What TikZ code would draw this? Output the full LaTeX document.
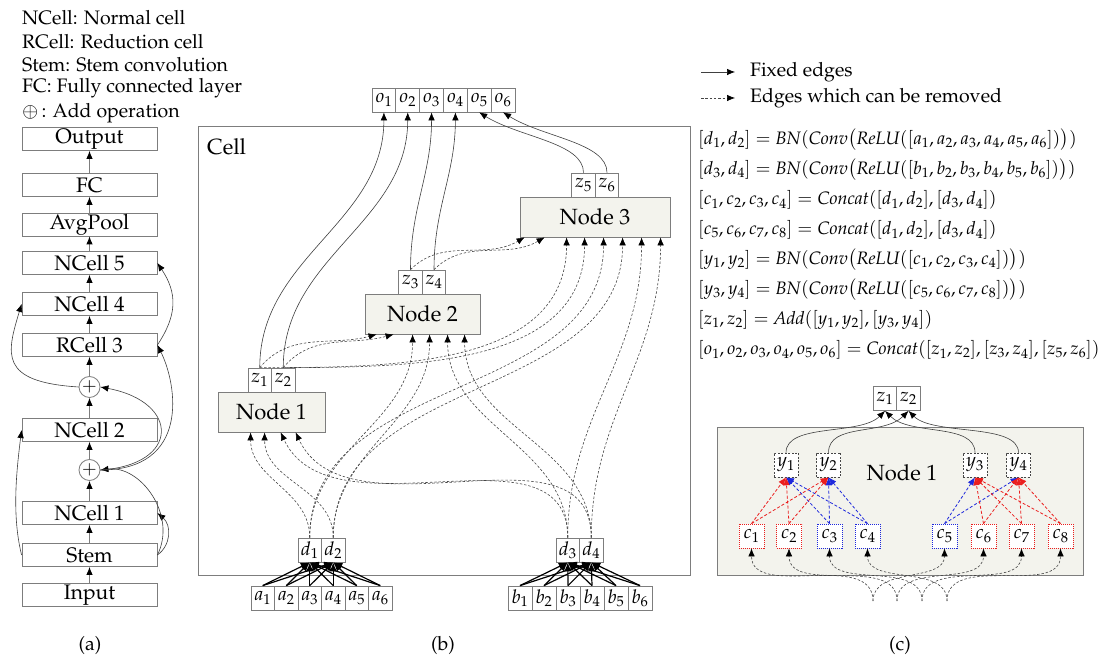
\documentclass[tikz,border=0pt]{standalone}
\usepackage[T1]{fontenc}
\usepackage{mathpazo}
\usetikzlibrary{arrows.meta,calc}
\definecolor{bordergray}{RGB}{125,125,125}
\definecolor{nodefill}{RGB}{243,243,237}
\definecolor{dashcol}{RGB}{70,70,70}
\definecolor{myred}{RGB}{235,30,30}
\definecolor{myblue}{RGB}{30,40,220}
\tikzset{
  txt/.style={inner sep=0pt, font=\fontsize{19.5}{23}\selectfont},
  blk/.style={draw=bordergray, line width=0.8pt, fill=white, minimum width=135pt, minimum height=23pt, inner sep=0pt, font=\fontsize{21}{24}\selectfont},
  cellbox/.style={draw=bordergray, line width=0.8pt, fill=white, minimum width=23.5pt, minimum height=24pt, inner sep=0pt, font=\fontsize{19}{22}\selectfont},
  opnode/.style={draw=bordergray, line width=0.8pt, fill=nodefill, minimum height=40pt, inner sep=0pt, font=\fontsize{22}{26}\selectfont},
  addop/.style={circle, draw=bordergray, line width=0.8pt, fill=white, minimum size=21pt, inner sep=0pt, font=\fontsize{18}{20}\selectfont},
  arr/.style={-{Latex[length=8pt,width=6.5pt,color=black]}},
  chainedge/.style={draw=bordergray, line width=0.9pt, arr},
  fixededge/.style={draw=black!75, line width=0.6pt, arr},
  remedge/.style={draw=dashcol, line width=0.6pt, dash pattern=on 2.5pt off 1.8pt, arr},
  convin/.style={draw=black, line width=1.2pt, -{Latex[length=9pt,width=7.5pt]}},
  ybox/.style={draw=dashcol, line width=0.6pt, dash pattern=on 2pt off 1.5pt, fill=white, minimum width=24pt, minimum height=24pt, inner sep=0pt, font=\fontsize{19}{22}\selectfont},
  cbox/.style={draw=#1, line width=0.8pt, dash pattern=on 1pt off 1pt, fill=white, minimum width=25pt, minimum height=24pt, inner sep=0pt, font=\fontsize{19}{22}\selectfont},
  coledge/.style={draw=#1, line width=0.8pt, dash pattern=on 3pt off 2pt, -{Latex[length=8pt,width=6.5pt]}},
  eqn/.style={anchor=west, inner sep=0pt, font=\fontsize{18}{22}\selectfont},
}
\begin{document}
\begin{tikzpicture}[x=1pt,y=1pt]
\useasboundingbox (0,0) rectangle (1107,663);
\fill[white] (0,0) rectangle (1107,663);

% ---------------- panel (a) ----------------
\node[txt, anchor=west] (lg1) at (22,645) {NCell: Normal cell};
\node[txt, anchor=west] (lg2) at (22,621.5) {RCell: Reduction cell};
\node[txt, anchor=west] (lg3) at (22,598) {Stem: Stem convolution};
\node[txt, anchor=west] (lg4) at (22,575) {FC: Fully connected layer};
\node[txt, anchor=west] (lg5) at (22,550) {$\oplus$\,: Add operation};

\node[blk] (out) at (89.5,524) {Output};
\node[blk] (fc) at (89.5,478) {FC};
\node[blk] (avg) at (89.5,438.5) {AvgPool};
\node[blk] (n5) at (89.5,400) {NCell 5};
\node[blk] (n4) at (89.5,359) {NCell 4};
\node[blk] (r3) at (89.5,318) {RCell 3};
\node[addop] (p1) at (89.5,276) {$+$};
\node[blk] (n2) at (89.5,233) {NCell 2};
\node[addop] (p2) at (89.5,193) {$+$};
\node[blk] (n1) at (89.5,150) {NCell 1};
\node[blk] (stem) at (89.5,108) {Stem};
\node[blk] (inp) at (89.5,68) {Input};

\foreach \a/\b in {inp/stem, stem/n1, n1/p2, p2/n2, n2/p1, p1/r3, r3/n4, n4/n5, n5/avg, avg/fc, fc/out}
  \draw[chainedge] (\a.north) -- (\b.south);

\draw[fixededge] (stem.east) .. controls +(14,10) and +(14,-12) .. (n1.east);
\draw[fixededge] (stem.east) .. controls +(20,40) and +(40,5) .. (p2.east);
\draw[fixededge] (p2.east) .. controls +(80,5) and +(80,-15) .. (p1.east);
\draw[fixededge] (p2.east) .. controls +(90,0) and +(20,-40) .. (r3.east);
\draw[fixededge] (r3.east) .. controls +(20,30) and +(20,-30) .. (n5.east);
\draw[fixededge] (p1.west) .. controls +(-80,5) and +(-15,-50) .. (n4.west);
\draw[fixededge] (stem.west) .. controls +(-10,40) and +(-5,-40) .. (n2.west);

\node[txt] (la) at (90,18) {(a)};

% ---------------- panel (b) ----------------
\node[draw=bordergray, line width=0.8pt, minimum width=492pt, minimum height=449pt, inner sep=0pt, anchor=south west] (cell) at (198,87) {};
\node[inner sep=0pt, anchor=west, font=\fontsize{22}{26}\selectfont] (celllab) at (207,516) {Cell};

\foreach \i in {1,...,6}
  \node[cellbox, minimum width=23.83pt] (o\i) at ({383.9+23.83*(\i-1)},563) {$o_{\i}$};

\node[opnode, minimum width=150pt] (N3) at (595,446) {Node 3};
\node[cellbox] (z5) at (583.5,478) {$z_5$};
\node[cellbox] (z6) at (607,478) {$z_6$};
\node[opnode, minimum width=115pt] (N2) at (422.5,349) {Node 2};
\node[cellbox] (z3) at (410.5,381) {$z_3$};
\node[cellbox] (z4) at (434,381) {$z_4$};
\node[opnode, minimum width=107pt] (N1) at (271.5,251) {Node 1};
\node[cellbox] (z1) at (259.75,283) {$z_1$};
\node[cellbox] (z2) at (283.25,283) {$z_2$};

\node[cellbox] (d1) at (309.75,113) {$d_1$};
\node[cellbox] (d2) at (333.25,113) {$d_2$};
\node[cellbox] (d3) at (567.75,113) {$d_3$};
\node[cellbox] (d4) at (591.25,113) {$d_4$};

\foreach \i in {1,...,6} {
  \node[cellbox] (a\i) at ({262.75+23.5*(\i-1)},65) {$a_{\i}$};
  \node[cellbox, minimum width=24pt] (b\i) at ({520+24*(\i-1)},65) {$b_{\i}$};
}
\foreach \i in {1,...,6} {
  \draw[convin] (a\i.north) -- (d1.south);
  \draw[convin] (a\i.north) -- (d2.south);
  \draw[convin] (b\i.north) -- (d3.south);
  \draw[convin] (b\i.north) -- (d4.south);
}

% input ports
\foreach \k/\off in {1/33,2/47,3/63,4/78}
  \coordinate (P1\k) at ($(N1.south west)+(\off,0)$);
\foreach \k/\off in {1/12,2/29,3/48,4/65,5/83,6/100}
  \coordinate (P2\k) at ($(N2.south west)+(\off,0)$);
\foreach \k/\off in {1/5,2/25,3/47,4/65,5/84,6/103,7/122,8/141}
  \coordinate (P3\k) at ($(N3.south west)+(\off,0)$);

% fixed edges to outputs
\draw[fixededge] (z1.north) to[out=90,in=-90] (o1.south);
\draw[fixededge] (z2.north) to[out=90,in=-90] (o2.south);
\draw[fixededge] (z3.north) to[out=90,in=-90] (o3.south);
\draw[fixededge] (z4.north) to[out=90,in=-90] (o4.south);
\draw[fixededge] (z5.north) .. controls +(0,30) and +(40,-25) .. (o5.south);
\draw[fixededge] (z6.north) .. controls +(0,30) and +(40,-25) .. (o6.south);

% removable edges
\draw[remedge] (d1.north) to[out=90,in=-90] (P11);
\draw[remedge] (d2.north) to[out=90,in=-90] (P12);
\draw[remedge] (d3.north) to[out=90,in=-65] (P13);
\draw[remedge] (d4.north) to[out=90,in=-65] (P14);
\draw[remedge] (z1.north) to[out=50,in=-165] (P21);
\draw[remedge] (z2.north) to[out=50,in=-165] (P22);
\draw[remedge] (d1.north) to[out=90,in=-90] (P23);
\draw[remedge] (d2.north) to[out=90,in=-90] (P24);
\draw[remedge] (d3.north) to[out=90,in=-90] (P25);
\draw[remedge] (d4.north) to[out=90,in=-90] (P26);
\draw[remedge] (z3.north) to[out=45,in=-150] (P31);
\draw[remedge] (z4.north) to[out=45,in=-150] (P32);
\draw[remedge] (z1.north) to[out=0,in=-90] (P33);
\draw[remedge] (z2.north) to[out=0,in=-90] (P34);
\draw[remedge] (d1.north) to[out=90,in=-90] (P35);
\draw[remedge] (d2.north) to[out=90,in=-90] (P36);
\draw[remedge] (d3.north) to[out=90,in=-90] (P37);
\draw[remedge] (d4.north) to[out=90,in=-90] (P38);

\node[txt] (lb) at (443,18) {(b)};

% ---------------- legend and equations ----------------
\coordinate (lgs1) at (701,591); \coordinate (lge1) at (735,591);
\coordinate (lgs2) at (701,565); \coordinate (lge2) at (735,565);
\draw[fixededge, line width=0.7pt] (lgs1) -- (lge1);
\draw[remedge, line width=0.7pt] (lgs2) -- (lge2);
\node[txt, anchor=west] (lgt1) at (750,591) {Fixed edges};
\node[txt, anchor=west] (lgt2) at (750,565) {Edges which can be removed};

\node[eqn] (eq1) at (698,523) {$[d_1,d_2]=\mathit{BN}(\mathit{Conv}\bigl(\mathit{ReLU}([a_1,a_2,a_3,a_4,a_5,a_6])\bigr))$};
\node[eqn] (eq2) at (698,493) {$[d_3,d_4]=\mathit{BN}(\mathit{Conv}\bigl(\mathit{ReLU}([b_1,b_2,b_3,b_4,b_5,b_6])\bigr))$};
\node[eqn] (eq3) at (698,463) {$[c_1,c_2,c_3,c_4]=\mathit{Concat}([d_1,d_2],[d_3,d_4])$};
\node[eqn] (eq4) at (698,433) {$[c_5,c_6,c_7,c_8]=\mathit{Concat}([d_1,d_2],[d_3,d_4])$};
\node[eqn] (eq5) at (698,403) {$[y_1,y_2]=\mathit{BN}(\mathit{Conv}\bigl(\mathit{ReLU}([c_1,c_2,c_3,c_4])\bigr))$};
\node[eqn] (eq6) at (698,373) {$[y_3,y_4]=\mathit{BN}(\mathit{Conv}\bigl(\mathit{ReLU}([c_5,c_6,c_7,c_8])\bigr))$};
\node[eqn] (eq7) at (698,343) {$[z_1,z_2]=\mathit{Add}([y_1,y_2],[y_3,y_4])$};
\node[eqn] (eq8) at (698,313) {$[o_1,o_2,o_3,o_4,o_5,o_6]=\mathit{Concat}([z_1,z_2],[z_3,z_4],[z_5,z_6])$};

% ---------------- panel (c) ----------------
\node[draw=bordergray, fill=nodefill, line width=0.8pt, minimum width=366pt, minimum height=148pt, inner sep=0pt] (cN1) at (900,162) {};
\node[inner sep=0pt, font=\fontsize{22}{26}\selectfont] (cN1lab) at (902,190) {Node 1};
\node[cellbox] (cz1) at (885,264.5) {$z_1$};
\node[cellbox] (cz2) at (908.5,264.5) {$z_2$};

\node[ybox] (y1) at (786,198) {$y_1$};
\node[ybox] (y2) at (828.5,198) {$y_2$};
\node[ybox] (y3) at (975,198) {$y_3$};
\node[ybox] (y4) at (1018.5,198) {$y_4$};

\node[cbox=myred] (c1) at (751.5,127) {$c_1$};
\node[cbox=myred] (c2) at (789,127) {$c_2$};
\node[cbox=myblue] (c3) at (829.5,127) {$c_3$};
\node[cbox=myblue] (c4) at (867.5,127) {$c_4$};
\node[cbox=myblue] (c5) at (944.5,127) {$c_5$};
\node[cbox=myred] (c6) at (983.5,127) {$c_6$};
\node[cbox=myred] (c7) at (1021.5,127) {$c_7$};
\node[cbox=myred] (c8) at (1060.5,127) {$c_8$};

\foreach \c/\col in {c3/myblue,c4/myblue,c1/myred,c2/myred}
  \foreach \y in {y1,y2}
    \draw[coledge=\col] (\c.north) -- (\y.south);
\foreach \c/\col in {c5/myblue,c6/myred,c7/myred,c8/myred}
  \foreach \y in {y3,y4}
    \draw[coledge=\col] (\c.north) -- (\y.south);

\draw[fixededge] (y1.north) .. controls +(0,30) and +(-25,-25) .. (cz1.south);
\draw[fixededge] (y3.north) .. controls +(0,30) and +(25,-25) .. (cz1.south);
\draw[fixededge] (y2.north) .. controls +(0,30) and +(-25,-25) .. (cz2.south);
\draw[fixededge] (y4.north) .. controls +(0,30) and +(25,-25) .. (cz2.south);

\coordinate (e1) at (873,62);
\coordinate (e2) at (897,62);
\coordinate (e3) at (922,62);
\coordinate (e4) at (947,62);
\foreach \e/\c in {e1/c1,e2/c2,e3/c3,e4/c4,e1/c5,e2/c6,e3/c7,e4/c8}
  \draw[remedge] (\e) to[out=90,in=-90] (\c.south);

\node[txt] (lc) at (900,18) {(c)};
\end{tikzpicture}
\end{document}
